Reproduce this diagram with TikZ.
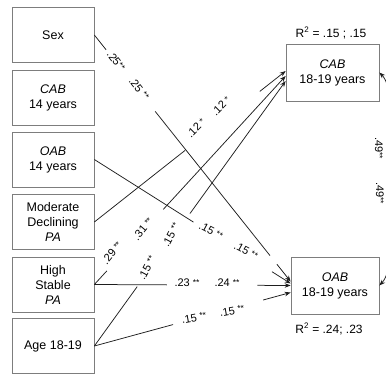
\documentclass[tikz,border=0pt]{standalone}
\usepackage{fontspec}
\setmainfont{Liberation Sans}
\usetikzlibrary{calc,arrows.meta}
\definecolor{boxgray}{RGB}{125,125,125}
\definecolor{linegray}{RGB}{30,30,30}
\newcommand\stars[1]{\raisebox{0.3ex}{\fontsize{8.5}{8.5}\selectfont #1}}
\begin{document}
\begin{tikzpicture}[x=1pt,y=-1pt,
 box/.style={draw=boxgray, line width=0.7pt, minimum width=82pt, minimum height=55pt, inner sep=0pt, align=center, font=\fontsize{12.5}{15}\selectfont},
 link/.style={line width=0.75pt, draw=linegray},
 arr/.style={link, -{Stealth[length=6pt,width=4.5pt]}},
 lbl/.style={font=\fontsize{11}{12}\selectfont, inner sep=0pt},
 rsq/.style={font=\fontsize{12}{14}\selectfont, inner sep=0pt}]
\useasboundingbox (0,0) rectangle (386,376);
\clip (0,0) rectangle (386,376);

% left boxes
\node[box] (sex) at (53,35) {Sex};
\node[box] (cab1) at (53,97.5) {\textit{CAB}\\14 years};
\node[box] (oab1) at (53,159.5) {\textit{OAB}\\14 years};
\node[box] (md) at (53,222) {Moderate\\Declining\\\textit{PA}};
\node[box] (hs) at (53,284.5) {High\\Stable\\\textit{PA}};
\node[box] (age) at (53,346) {Age 18-19};

% right boxes
\node[box, minimum width=93pt, minimum height=57pt] (cab2) at (332.5,72.5) {\textit{CAB}\\18-19 years};
\node[box, minimum width=88pt, minimum height=57pt] (oab2) at (335,285.5) {\textit{OAB}\\18-19 years};

\node[rsq] (r1) at (331,33) {R\textsuperscript{2} = .15 ; .15};
\node[rsq] (r2) at (329,329) {R\textsuperscript{2} = .24; .23};

% end points
\coordinate (e1) at ([yshift=4pt]oab2.west);
\coordinate (e2) at ([yshift=2pt]oab2.west);
\coordinate (e6) at (oab2.west);
\coordinate (e7) at ([yshift=-7pt]oab2.west);
\coordinate (e3) at ([yshift=1.5pt]cab2.west);
\coordinate (e4) at ([yshift=-3.5pt]cab2.west);
\coordinate (e5) at ([yshift=-8.5pt]cab2.west);

% Sex -> OAB 18-19
\draw[link] (sex.east) -- ($(sex.east)!0.06!(e1)$);
\draw[link] ($(sex.east)!0.31!(e1)$) -- ($(sex.east)!0.895!(e1)$);
\draw[arr] ($(sex.east)!0.93!(e1)$) -- (e1);
% OAB 14 -> OAB 18-19
\draw[link] (oab1.east) -- ($(oab1.east)!0.505!(e2)$);
\draw[arr] ($(oab1.east)!0.905!(e2)$) -- (e2);
% Moderate declining -> CAB 18-19
\draw[link] (md.east) -- ($(md.east)!0.475!(e3)$);
\draw[arr] ($(md.east)!0.865!(e3)$) -- (e3);
% High stable -> CAB 18-19
\draw[link] (hs.east) -- ($(hs.east)!0.065!(e4)$);
\draw[arr] ($(hs.east)!0.36!(e4)$) -- (e4);
% Age -> CAB 18-19
\draw[link] (age.east) -- ($(age.east)!0.224!(e5)$);
\draw[arr] ($(age.east)!0.5!(e5)$) -- (e5);
% High stable -> OAB 18-19
\draw[link] (hs.east) -- ($(hs.east)!0.37!(e6)$);
\draw[arr] ($(hs.east)!0.83!(e6)$) -- (e6);
% Age -> OAB 18-19
\draw[link] (age.east) -- ($(age.east)!0.401!(e7)$);
\draw[arr] ($(age.east)!0.86!(e7)$) -- (e7);

% CAB <-> OAB covariance
\draw[link, {Stealth[length=6pt,width=4.5pt]}-{Stealth[length=6pt,width=4.5pt]}] (cab2.east) .. controls (402,95) and (402,262) .. (oab2.east);

% labels
\node[lbl, rotate=-52] (l1) at (116,61) {.25\stars{**}};
\node[lbl, rotate=-52] (l2) at (139,89) {.25 \stars{**}};
\node[lbl, rotate=-28] (l3) at (211,231) {.15 \stars{**}};
\node[lbl, rotate=-28] (l4) at (246,251) {.15 \stars{**}};
\node[lbl, rotate=45] (l5) at (196,128) {.12 \stars{*}};
\node[lbl, rotate=45] (l6) at (221,106) {.12 \stars{*}};
\node[lbl, rotate=50] (l7) at (112,253) {.29 \stars{**}};
\node[lbl, rotate=50] (l8) at (143,229) {.31 \stars{**}};
\node[lbl, rotate=62] (l9) at (147,268) {.15 \stars{**}};
\node[lbl, rotate=62] (l10) at (171,235) {.15 \stars{**}};
\node[lbl] (l11) at (187,283) {.23 \stars{**}};
\node[lbl] (l12) at (227,283) {.24 \stars{**}};
\node[lbl, rotate=10] (l13) at (194,318) {.15 \stars{**}};
\node[lbl, rotate=10] (l14) at (232,311) {.15 \stars{**}};
\node[lbl, rotate=-90] (l15) at (379,148) {.49\stars{**}};
\node[lbl, rotate=-90] (l16) at (380,193) {.49\stars{**}};
\end{tikzpicture}
\end{document}
